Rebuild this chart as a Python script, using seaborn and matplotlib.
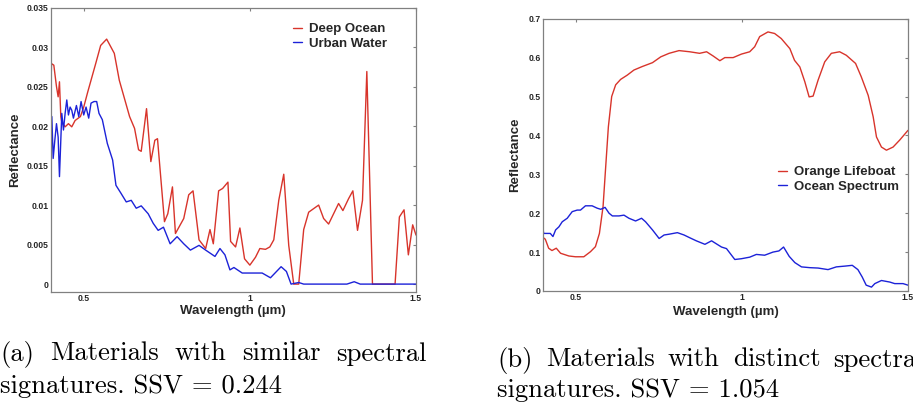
import numpy as np
import pandas as pd
import matplotlib.pyplot as plt
import seaborn as sns

# (a) similar spectra: deep ocean vs urban water
deep_ocean_wl = [0.400, 0.403, 0.410, 0.418, 0.423, 0.427, 0.431, 0.434, 0.444, 0.454,
                 0.464, 0.474, 0.490, 0.500, 0.512, 0.536, 0.551, 0.569, 0.592, 0.607,
                 0.638, 0.653, 0.665, 0.673, 0.689, 0.702, 0.714, 0.722, 0.743, 0.753,
                 0.767, 0.776, 0.801, 0.816, 0.829, 0.847, 0.867, 0.880, 0.890, 0.906,
                 0.918, 0.934, 0.942, 0.957, 0.970, 0.984, 1.000, 1.017, 1.030, 1.047,
                 1.060, 1.072, 1.087, 1.102, 1.117, 1.132, 1.147, 1.162, 1.177, 1.207,
                 1.222, 1.237, 1.267, 1.280, 1.297, 1.310, 1.324, 1.339, 1.352, 1.369,
                 1.437, 1.450, 1.464, 1.477, 1.490, 1.500]
deep_ocean = [0.0224, 0.0279, 0.0277, 0.0250, 0.0237, 0.0256, 0.0212, 0.0205, 0.0199, 0.0203,
              0.0199, 0.0207, 0.0212, 0.0224, 0.0243, 0.0279, 0.0302, 0.0310, 0.0292, 0.0258,
              0.0212, 0.0197, 0.0170, 0.0168, 0.0222, 0.0155, 0.0182, 0.0184, 0.0079, 0.0089,
              0.0123, 0.0064, 0.0083, 0.0113, 0.0118, 0.0056, 0.0045, 0.0069, 0.0051, 0.0118,
              0.0121, 0.0129, 0.0054, 0.0047, 0.0071, 0.0032, 0.0024, 0.0034, 0.0045, 0.0044,
              0.0047, 0.0056, 0.0106, 0.0139, 0.0049, 0.0, 0.0, 0.0069, 0.0091, 0.0100,
              0.0083, 0.0076, 0.0102, 0.0093, 0.0108, 0.0118, 0.0068, 0.0106, 0.0269, 0.0,
              0.0, 0.0085, 0.0094, 0.0037, 0.0075, 0.0062]

urban_wl = [0.400, 0.404, 0.408, 0.413, 0.418, 0.423, 0.427, 0.431, 0.434, 0.439,
            0.444, 0.449, 0.454, 0.459, 0.464, 0.469, 0.478, 0.485, 0.492, 0.500,
            0.507, 0.515, 0.522, 0.531, 0.539, 0.546, 0.556, 0.571, 0.587, 0.597,
            0.612, 0.628, 0.643, 0.658, 0.673, 0.694, 0.709, 0.724, 0.740, 0.760,
            0.781, 0.801, 0.821, 0.847, 0.867, 0.895, 0.910, 0.925, 0.940, 0.952,
            0.977, 1.037, 1.062, 1.094, 1.110, 1.124, 1.147, 1.162, 1.292, 1.314,
            1.332, 1.500]
urban = [0.0157, 0.0212, 0.0159, 0.0182, 0.0203, 0.0186, 0.0136, 0.0182, 0.0216, 0.0195,
         0.0216, 0.0233, 0.0214, 0.0224, 0.0220, 0.0210, 0.0226, 0.0212, 0.0231, 0.0214,
         0.0224, 0.0210, 0.0229, 0.0231, 0.0231, 0.0216, 0.0208, 0.0178, 0.0157, 0.0125,
         0.0115, 0.0104, 0.0106, 0.0096, 0.0099, 0.0089, 0.0077, 0.0068, 0.0072, 0.0051,
         0.0060, 0.0051, 0.0043, 0.0049, 0.0043, 0.0035, 0.0045, 0.0037, 0.0018, 0.0021,
         0.0014, 0.0014, 0.0008, 0.0022, 0.0016, 0.0, 0.0002, 0.0, 0.0, 0.0003,
         0.0, 0.0]

# (b) distinct spectra: orange lifeboat vs ocean
lifeboat_wl = [0.397, 0.407, 0.417, 0.427, 0.440, 0.453, 0.478, 0.498, 0.523, 0.543,
               0.558, 0.570, 0.581, 0.589, 0.597, 0.607, 0.619, 0.634, 0.654, 0.674,
               0.699, 0.730, 0.755, 0.780, 0.810, 0.842, 0.872, 0.893, 0.913, 0.933,
               0.948, 0.973, 0.998, 1.023, 1.038, 1.053, 1.078, 1.098, 1.118, 1.144,
               1.158, 1.174, 1.189, 1.202, 1.214, 1.229, 1.249, 1.269, 1.294, 1.314,
               1.342, 1.359, 1.380, 1.395, 1.405, 1.420, 1.435, 1.455, 1.475, 1.500]
lifeboat = [0.140, 0.133, 0.110, 0.104, 0.110, 0.097, 0.090, 0.088, 0.088, 0.101,
            0.114, 0.148, 0.217, 0.320, 0.422, 0.500, 0.530, 0.544, 0.555, 0.568,
            0.577, 0.587, 0.602, 0.611, 0.618, 0.615, 0.611, 0.615, 0.604, 0.592,
            0.600, 0.600, 0.609, 0.615, 0.628, 0.654, 0.666, 0.662, 0.649, 0.623,
            0.593, 0.576, 0.538, 0.499, 0.501, 0.542, 0.589, 0.611, 0.615, 0.606,
            0.585, 0.551, 0.503, 0.448, 0.396, 0.370, 0.362, 0.370, 0.388, 0.413]

ocean_wl = [0.397, 0.402, 0.412, 0.422, 0.430, 0.438, 0.448, 0.458, 0.473, 0.488,
            0.503, 0.513, 0.528, 0.548, 0.563, 0.574, 0.587, 0.599, 0.609, 0.629,
            0.644, 0.659, 0.679, 0.697, 0.709, 0.730, 0.750, 0.765, 0.780, 0.805,
            0.825, 0.842, 0.862, 0.888, 0.908, 0.938, 0.953, 0.978, 0.998, 1.023,
            1.043, 1.068, 1.093, 1.111, 1.125, 1.142, 1.159, 1.179, 1.204, 1.229,
            1.259, 1.284, 1.310, 1.332, 1.349, 1.362, 1.374, 1.390, 1.400, 1.420,
            1.445, 1.460, 1.485, 1.500]
ocean = [0.178, 0.148, 0.148, 0.148, 0.140, 0.157, 0.165, 0.178, 0.187, 0.204,
         0.208, 0.208, 0.219, 0.219, 0.213, 0.210, 0.215, 0.200, 0.193, 0.193,
         0.195, 0.187, 0.180, 0.187, 0.178, 0.157, 0.135, 0.144, 0.146, 0.150,
         0.144, 0.137, 0.129, 0.120, 0.129, 0.113, 0.109, 0.081, 0.083, 0.087,
         0.094, 0.092, 0.100, 0.103, 0.113, 0.089, 0.073, 0.062, 0.060, 0.059,
         0.055, 0.062, 0.064, 0.066, 0.055, 0.036, 0.015, 0.010, 0.019, 0.027,
         0.023, 0.019, 0.019, 0.015]

ticks_a = [0, 0.005, 0.01, 0.015, 0.02, 0.025, 0.03, 0.035]
ticks_b = [0, 0.1, 0.2, 0.3, 0.4, 0.5, 0.6, 0.7]
x_ticks = [0.5, 1, 1.5]

RED = '#d8342b'
BLUE = '#1c22d8'

sns.set_theme(style='white')
plt.rcParams['font.family'] = ['Liberation Sans', 'DejaVu Sans']

W, H = 913, 405
fig = plt.figure(figsize=(W / 100, H / 100), dpi=100)

def px_axes(l, t, r, b):
    return fig.add_axes([l / W, 1 - b / H, (r - l) / W, (b - t) / H])

ax_a = px_axes(50.5, 7.5, 416, 292)
ax_b = px_axes(543, 18.7, 908, 291)

sns.lineplot(x=deep_ocean_wl, y=deep_ocean, ax=ax_a, color=RED, lw=1.0, label='Deep Ocean')
sns.lineplot(x=urban_wl, y=urban, ax=ax_a, color=BLUE, lw=1.0, label='Urban Water')
sns.lineplot(x=lifeboat_wl, y=lifeboat, ax=ax_b, color=RED, lw=1.0, label='Orange Lifeboat')
sns.lineplot(x=ocean_wl, y=ocean, ax=ax_b, color=BLUE, lw=1.0, label='Ocean Spectrum')

ax_a.set_xlim(0.4, 1.5)
ax_a.set_ylim(-0.001, 0.035)
ax_b.set_xlim(0.4, 1.5)
ax_b.set_ylim(0, 0.7)

for ax, yt in [(ax_a, ticks_a), (ax_b, ticks_b)]:
    ax.set_xticks(x_ticks)
    ax.set_xticklabels([f'{v:g}' for v in x_ticks])
    ax.set_yticks(yt)
    ax.set_yticklabels([f'{v:g}' for v in yt])
    ax.tick_params(direction='in', top=True, right=True, length=2.5, width=0.8,
                   color='#808080', pad=1.5, labelsize=6.2)
    for lab in ax.get_xticklabels() + ax.get_yticklabels():
        lab.set_fontweight('bold')
    for sp in ax.spines.values():
        sp.set_color('#808080')
        sp.set_linewidth(0.9)
    ax.set_xlabel('Wavelength (\u00b5m)', fontsize=9.5, fontweight='bold')
    ax.set_ylabel('Reflectance', fontsize=9.5, fontweight='bold')

ax_a.xaxis.set_label_coords(0.5, -13 / 284.5)
ax_a.yaxis.set_label_coords(-29 / 365.5, 0.5)
ax_b.xaxis.set_label_coords(0.5, -15 / 272.3)
ax_b.yaxis.set_label_coords(-22 / 365, 0.5)

leg_kw = dict(frameon=False, loc='upper left', borderpad=0, borderaxespad=0,
              handlelength=0.7, handletextpad=0.55, labelspacing=0.2,
              prop={'size': 9.5, 'weight': 'bold'})
ax_a.legend(bbox_to_anchor=((292.5 - 50.5) / 365.5, 1 - (23 - 7.5) / 284.5), **leg_kw)
ax_b.legend(bbox_to_anchor=((778 - 543) / 365, 1 - (166 - 18.7) / 272.3), **leg_kw)

# captions, first line justified like LaTeX
cap_kw = dict(family='cmr10', fontsize=19.2, va='baseline', color='black')
renderer = fig.canvas.get_renderer()

def justified(words, x0, base, width):
    texts = [fig.text(0, 1 - base / H, w, **cap_kw) for w in words]
    widths = [t.get_window_extent(renderer).width for t in texts]
    gap = (width - sum(widths)) / (len(words) - 1)
    x = x0
    for t, w in zip(texts, widths):
        t.set_x(x / W)
        x += w + gap

justified(['(a)', 'Materials', 'with', 'similar', 'spectral'], 0, 360.5, 427)
fig.text(0, 1 - 393 / H, 'signatures. SSV = 0.244', **cap_kw)
justified(['(b)', 'Materials', 'with', 'distinct', 'spectral'], 497, 366.5, 427)
fig.text(497 / W, 1 - 396.5 / H, 'signatures. SSV = 1.054', **cap_kw)

fig.savefig('out.png', dpi=100)
